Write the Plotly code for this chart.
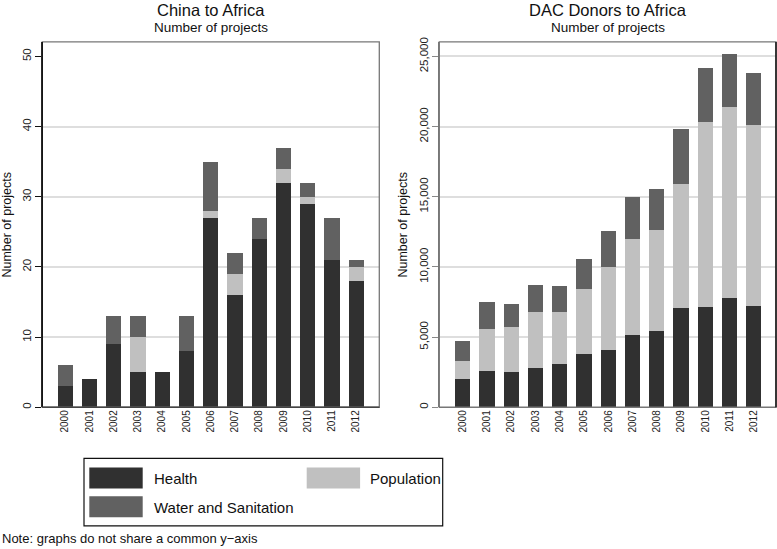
import plotly.graph_objects as go

years = ["2000", "2001", "2002", "2003", "2004", "2005", "2006", "2007", "2008", "2009", "2010", "2011", "2012"]
series_names = ["Health", "Population", "Water and Sanitation"]
series_colors = ["#303030", "#c0c0c0", "#616161"]

china_health = [3, 4, 9, 5, 5, 8, 27, 16, 24, 32, 29, 21, 18]
china_population = [0, 0, 0, 5, 0, 0, 1, 3, 0, 2, 1, 0, 2]
china_water = [3, 0, 4, 3, 0, 5, 7, 3, 3, 3, 2, 6, 1]

dac_health = [2000, 2560, 2490, 2820, 3100, 3760, 4110, 5150, 5460, 7060, 7150, 7790, 7200]
dac_population = [1290, 3040, 3250, 4000, 3720, 4640, 5890, 6850, 7180, 8880, 13150, 13640, 12890]
dac_water = [1420, 1880, 1650, 1860, 1820, 2140, 2590, 2950, 2900, 3880, 3900, 3760, 3750]

china_ticks = [0, 10, 20, 30, 40, 50]
dac_ticks = [0, 5000, 10000, 15000, 20000, 25000]

FONT = "Liberation Sans, Arial, sans-serif"

fig = go.Figure()
china = [china_health, china_population, china_water]
dac = [dac_health, dac_population, dac_water]
for name, color, vals in zip(series_names, series_colors, china):
    fig.add_trace(go.Bar(x=years, y=vals, name=name, marker=dict(color=color, line=dict(width=0)),
                         xaxis="x", yaxis="y", showlegend=False))
for name, color, vals in zip(series_names, series_colors, dac):
    fig.add_trace(go.Bar(x=years, y=vals, name=name, marker=dict(color=color, line=dict(width=0)),
                         xaxis="x2", yaxis="y2", showlegend=False))

W, H = 777, 549
def px(v):
    return v / W
def py(v):
    return 1 - v / H

ydom = [py(406.7), py(37.3)]
xdom1 = [px(42.3), px(379.3)]
xdom2 = [px(439.3), px(776)]

xaxis_common = dict(type="category", showgrid=False, zeroline=False, showline=False, ticks="",
                    tickangle=-90, tickfont=dict(family=FONT, size=10, color="#222"))
yaxis_common = dict(showgrid=False, zeroline=False, showline=True, ticks="outside", ticklen=6,
                    tickangle=-90, tickfont=dict(family=FONT, size=11.5, color="#222"))

fig.update_layout(
    width=W, height=H, autosize=False,
    margin=dict(l=0, r=0, t=0, b=0),
    paper_bgcolor="white", plot_bgcolor="white",
    barmode="stack", bargap=0.37,
    font=dict(family=FONT, color="#111"),
    xaxis=dict(domain=xdom1, range=[-0.944, 12.953], anchor="y", **xaxis_common),
    yaxis=dict(domain=ydom, range=[0, 52.07], anchor="x", tickvals=china_ticks,
               linecolor="#111", linewidth=1.3, tickcolor="#111",
               minor=dict(tickvals=china_ticks[1:-1], showgrid=True, gridcolor="#dedede", gridwidth=1.6, ticks=""),
               **yaxis_common),
    xaxis2=dict(domain=xdom2, range=[-0.965, 12.915], anchor="y2", **xaxis_common),
    yaxis2=dict(domain=ydom, range=[0, 26035], anchor="x2", tickvals=dac_ticks, tickformat=",",
                linecolor="#777", linewidth=1.3, tickcolor="#888",
                minor=dict(tickvals=dac_ticks[1:], showgrid=True, gridcolor="#dedede", gridwidth=1.6, ticks=""),
                **yaxis_common),
)

shapes = []
# panel frames
shapes.append(dict(type="rect", xref="x domain", yref="y domain", x0=0, x1=1, y0=0, y1=1,
                   line=dict(color="#777", width=1.3), fillcolor="rgba(0,0,0,0)", layer="above"))
shapes.append(dict(type="line", xref="x domain", yref="y domain", x0=0, x1=0, y0=0, y1=1,
                   line=dict(color="#111", width=1.3), layer="above"))
shapes.append(dict(type="line", xref="x domain", yref="y domain", x0=0, x1=1, y0=0, y1=0,
                   line=dict(color="#444", width=1.3), layer="above"))
shapes.append(dict(type="rect", xref="x2 domain", yref="y2 domain", x0=0, x1=1, y0=0, y1=1,
                   line=dict(color="#777", width=1.3), fillcolor="rgba(0,0,0,0)", layer="above"))
shapes.append(dict(type="line", xref="x2 domain", yref="y2 domain", x0=1, x1=1, y0=0, y1=1,
                   line=dict(color="#111", width=1.5), layer="above"))

annotations = []
for dom, title in [(xdom1, "China to Africa"), (xdom2, "DAC Donors to Africa")]:
    cx = (dom[0] + dom[1]) / 2
    annotations.append(dict(text=title, x=cx, y=py(5), xref="paper", yref="paper", showarrow=False,
                            xanchor="center", yanchor="middle", font=dict(family=FONT, size=16.5, color="#111")))
    annotations.append(dict(text="Number of projects", x=cx, y=py(23), xref="paper", yref="paper",
                            showarrow=False, xanchor="center", yanchor="middle",
                            font=dict(family=FONT, size=13.5, color="#111")))
for xpix in [7, 403]:
    annotations.append(dict(text="Number of projects", x=px(xpix), y=py(222), xref="paper", yref="paper",
                            showarrow=False, textangle=-90, xanchor="center", yanchor="middle",
                            font=dict(family=FONT, size=12.5, color="#111")))

# legend box
shapes.append(dict(type="rect", xref="paper", yref="paper", x0=px(84), x1=px(442.7), y0=py(526.7), y1=py(458.3),
                   line=dict(color="#111", width=1.2), fillcolor="white"))
legend_pos = [(89.3, 467.7, 151.7), (306.7, 467.7, 367.7), (89.3, 496.7, 151.7)]
for name, color, (sx, sy, tx) in zip(series_names, series_colors, legend_pos):
    shapes.append(dict(type="rect", xref="paper", yref="paper", x0=px(sx), x1=px(sx + 53.4),
                       y0=py(sy + 21.2), y1=py(sy), line=dict(width=0), fillcolor=color))
    annotations.append(dict(text=name, x=px(tx), y=py(sy + 11), xref="paper", yref="paper", showarrow=False,
                            xanchor="left", yanchor="middle", font=dict(family=FONT, size=15, color="#111")))

annotations.append(dict(text="Note: graphs do not share a common y\u2212axis", x=0, y=py(539.5), xref="paper",
                        yref="paper", showarrow=False, xanchor="left", yanchor="middle",
                        font=dict(family=FONT, size=13, color="#111")))

fig.update_layout(shapes=shapes, annotations=annotations)
fig.write_html("out.html", config={"displayModeBar": False},
               post_script="document.body.style.margin='0';document.body.style.padding='0';document.body.style.overflow='hidden';")
